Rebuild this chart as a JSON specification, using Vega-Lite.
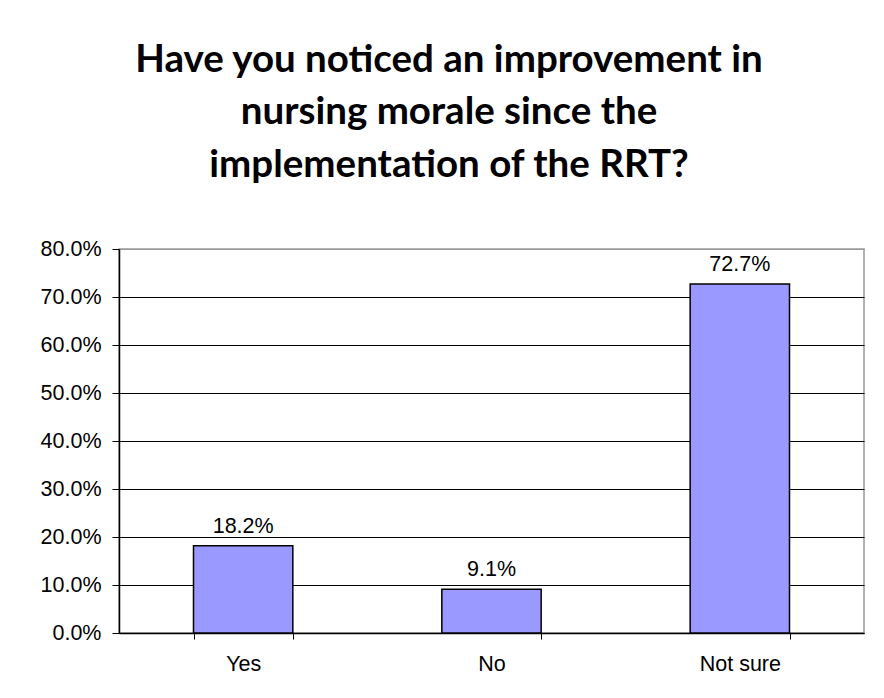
{
  "$schema": "https://vega.github.io/schema/vega-lite/v6.json",
  "autosize": {"type": "none"},
  "width": 745,
  "height": 384,
  "padding": {"left": 119, "top": 249, "right": 20, "bottom": 65},
  "background": "white",
  "title": {
    "text": ["Have you noticed an improvement in", "nursing morale since the", "implementation of the RRT?"],
    "font": "Lato",
    "fontWeight": "bold",
    "fontSize": 38.5,
    "lineHeight": 52.5,
    "color": "black",
    "anchor": "middle",
    "frame": "bounds",
    "offset": 53,
    "dx": -3
  },
  "data": {
    "values": [
      {"answer": "Yes", "pct": 0.182},
      {"answer": "No", "pct": 0.091},
      {"answer": "Not sure", "pct": 0.727}
    ]
  },
  "config": {"view": {"stroke": "#999999", "strokeWidth": 1.5}},
  "encoding": {
    "x": {
      "field": "answer",
      "type": "nominal",
      "sort": null,
      "scale": {"paddingInner": 0.6, "paddingOuter": 0.3},
      "axis": {
        "title": null,
        "labelAngle": 0,
        "labelFont": "Liberation Sans",
        "labelFontSize": 21.5,
        "labelColor": "black",
        "tickBand": "extent",
        "tickSize": 6,
        "tickColor": "black",
        "domainColor": "black",
        "domainWidth": 1.5,
        "labelPadding": 14,
        "grid": false
      }
    },
    "y": {
      "field": "pct",
      "type": "quantitative",
      "scale": {"domain": [0, 0.8]},
      "axis": {
        "title": null,
        "values": [0, 0.1, 0.2, 0.3, 0.4, 0.5, 0.6, 0.7, 0.8],
        "format": ".1%",
        "labelFont": "Liberation Sans",
        "labelFontSize": 21.5,
        "labelColor": "black",
        "tickSize": 7,
        "tickColor": "black",
        "domainColor": "black",
        "domainWidth": 1.5,
        "labelPadding": 11,
        "grid": true,
        "gridColor": {"condition": {"test": "datum.value >= 0.8", "value": "#999999"}, "value": "black"},
        "gridOpacity": 1,
        "gridWidth": 1
      }
    }
  },
  "layer": [
    {"mark": {"type": "bar", "fill": "#9999ff", "stroke": "black", "strokeWidth": 1.5}},
    {
      "mark": {"type": "text", "baseline": "alphabetic", "dy": -13, "font": "Liberation Sans", "fontSize": 21.5, "color": "black"},
      "encoding": {"text": {"field": "pct", "format": ".1%"}}
    }
  ]
}
